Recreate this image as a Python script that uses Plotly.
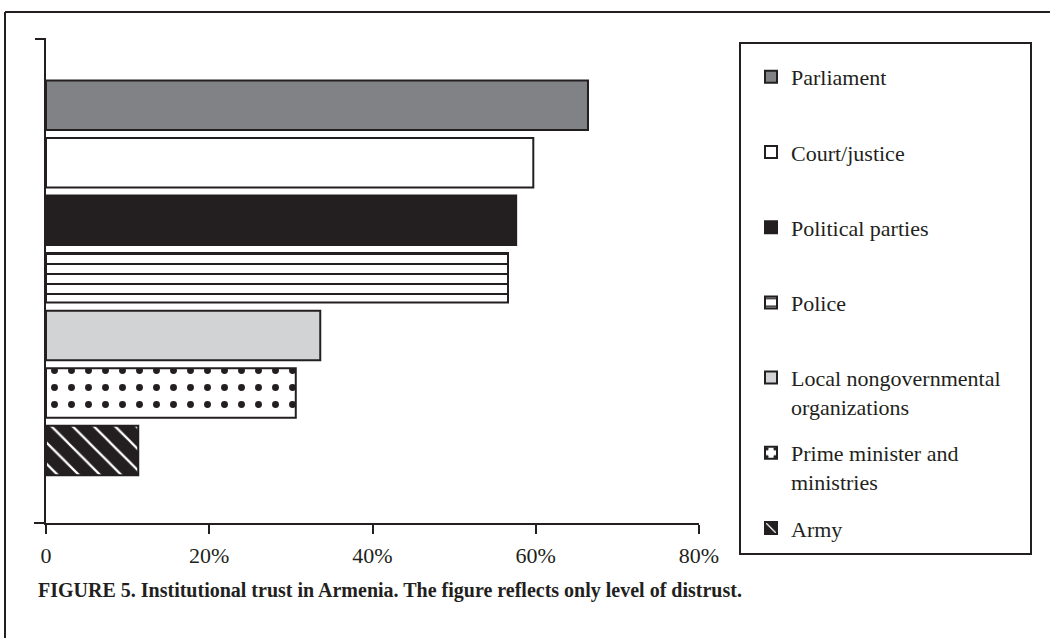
import plotly.graph_objects as go

# ---- data ----
categories = ["Parliament", "Court/justice", "Political parties", "Police",
              "Local nongovernmental<br>organizations", "Prime minister and<br>ministries", "Army"]
distrust = [66.4, 59.7, 57.6, 56.6, 33.6, 30.6, 11.3]
tick_vals = [0, 20, 40, 60, 80]
tick_text = ["0", "20%", "40%", "60%", "80%"]
caption = "FIGURE 5. Institutional trust in Armenia. The figure reflects only level of distrust."

INK = "#231F20"
fills = ["#808285", "#FFFFFF", INK, "#FFFFFF", "#D1D3D4", "#FFFFFF", INK]
patterns = [None, None, None,
            dict(shape="-", fgcolor=INK, bgcolor="#FFFFFF", size=10, solidity=0.2, fillmode="replace"),
            None,
            dict(shape=".", fgcolor=INK, bgcolor="#FFFFFF", size=17, solidity=0.13, fillmode="replace"),
            dict(shape="\\", fgcolor="#FFFFFF", bgcolor=INK, size=15, solidity=0.15, fillmode="replace")]

n = len(categories)
fig = go.Figure()
for i, (cat, val) in enumerate(zip(categories, distrust)):
    name = cat if "<br>" in cat else cat + "<br> "
    marker = dict(color=fills[i], line=dict(color=INK, width=2))
    if patterns[i]:
        marker["pattern"] = patterns[i]
    fig.add_trace(go.Bar(
        x=[val], y=[n - 1 - i], orientation="h", name=name,
        marker=marker, width=0.86, legendgroup=f"g{i}",
        hoverinfo="x+name",
    ))

L, R, T, B = 46, 351, 39, 115
W, H = 1050, 638
pw, ph = W - L - R, H - T - B
def px(x):
    return (x - L) / pw
def py(y):
    return (H - B - y) / ph

shapes = [
    # outer frame (left + top)
    dict(type="line", xref="paper", yref="paper", x0=px(5), x1=px(5), y0=py(12), y1=py(640), line=dict(color=INK, width=2)),
    dict(type="line", xref="paper", yref="paper", x0=px(5), x1=px(1052), y0=py(12), y1=py(12), line=dict(color=INK, width=2)),
    # axis extension and top tick
    dict(type="line", xref="paper", yref="paper", x0=px(34), x1=0, y0=0, y1=0, line=dict(color=INK, width=2)),
    dict(type="line", xref="paper", yref="paper", x0=px(35), x1=0, y0=1, y1=1, line=dict(color=INK, width=2)),
    # legend box
    dict(type="rect", xref="paper", yref="paper", x0=px(740), x1=px(1031), y0=py(554), y1=py(43),
         line=dict(color=INK, width=2), fillcolor="rgba(0,0,0,0)"),
]

fig.update_layout(
    width=W, height=H,
    margin=dict(l=L, r=R, t=T, b=B),
    paper_bgcolor="white", plot_bgcolor="white",
    font=dict(family="Liberation Serif", size=22, color=INK),
    barmode="overlay",
    showlegend=True,
    legend=dict(x=px(751), y=py(56), xanchor="left", yanchor="top",
                bgcolor="rgba(0,0,0,0)", borderwidth=0, maxheight=620,
                font=dict(family="Liberation Serif", size=22, color=INK),
                tracegroupgap=15, valign="top", traceorder="grouped"),
    xaxis=dict(range=[0, 80], tickvals=tick_vals, ticktext=tick_text,
               showgrid=False, zeroline=False, showline=True, linecolor=INK, linewidth=2,
               ticks="outside", ticklen=9, tickwidth=2, tickcolor=INK, ticklabelstandoff=3,
               tickfont=dict(family="Liberation Serif", size=22, color=INK)),
    yaxis=dict(range=[-1.26, n - 1 + 1.15], showgrid=False, zeroline=False,
               showline=True, linecolor=INK, linewidth=2, showticklabels=False, ticks=""),
    shapes=shapes,
    annotations=[dict(text="<b>" + caption + "</b>", xref="paper", yref="paper",
                      x=px(36), y=py(590), xanchor="left", yanchor="middle", showarrow=False,
                      font=dict(family="Liberation Serif", size=20, color=INK))],
)

fig.write_html("out.html", config={"displayModeBar": False},
               post_script="document.body.style.margin='0';document.body.style.overflow='hidden';")
